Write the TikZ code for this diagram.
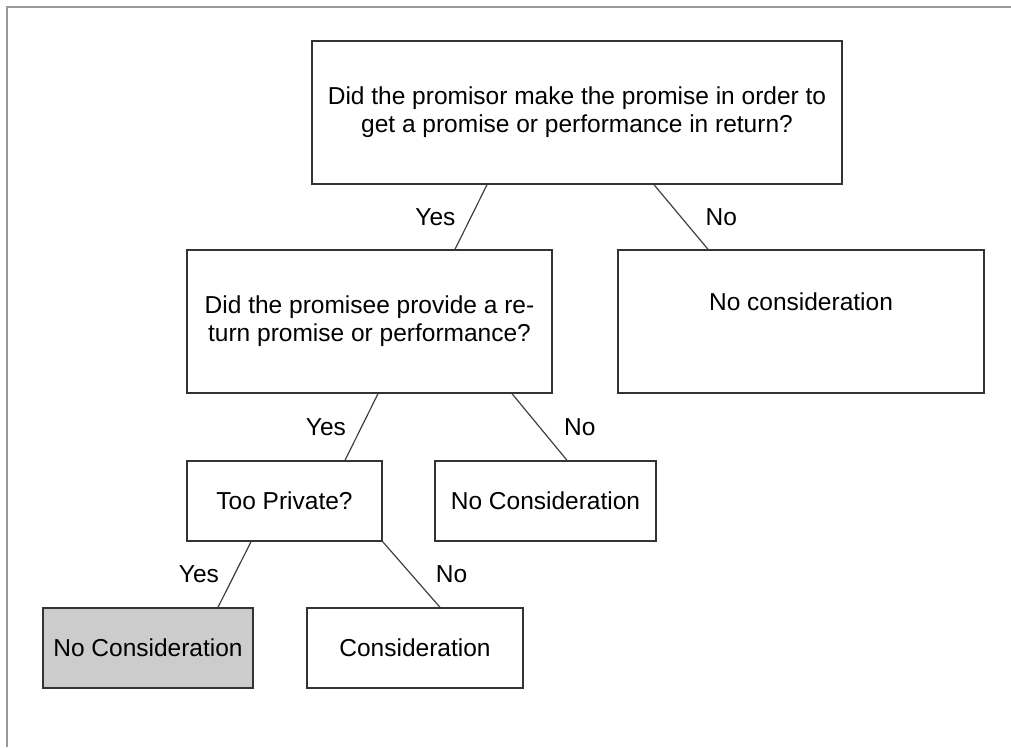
\documentclass[tikz,border=0pt]{standalone}
\usepackage{fontspec}
\setmainfont{Liberation Sans}
\tikzset{
  box/.style={draw=black!80, line width=1.4pt, inner sep=0pt, font=\fontsize{24.5}{28}\selectfont},
  ans/.style={font=\fontsize{24.5}{28}\selectfont, inner sep=0pt},
  link/.style={draw=black!75, line width=1.2pt}
}
\begin{document}
\begin{tikzpicture}[x=1pt, y=-1pt]
            \useasboundingbox (0,0) rectangle (1011,747);
            \draw[black!40, line width=2pt] (1011,7) -- (7,7) -- (7,747);

            \node[box, align=center, minimum width=530pt, minimum height=143pt] (Q1) at (577,112.5) {Did the promisor make the promise in order to\\get a promise or performance in return?};
            \node[box, align=center, minimum width=365pt, minimum height=143pt] (Q2) at (369.5,321.5) {Did the promisee provide a re-\\turn promise or performance?};
            \node[box, minimum width=366pt, minimum height=143pt, text depth=40pt] (none) at (801,321.5) {No consideration};
            \draw[link] ([xshift=-90pt]Q1.south) edge node[ans, midway, left=15pt]{Yes} ([xshift=85.5pt]Q2.north);
            \draw[link] ([xshift=77pt]Q1.south) edge node[ans, midway, right=24pt]{No} ([xshift=-93pt]none.north);

            \node[box, minimum width=195pt, minimum height=80pt] (private) at (284.5,501) {Too Private?};
            \node[box, minimum width=221pt, minimum height=80pt] (noneB) at (545.5,501) {No Consideration};
            \draw[link] ([xshift=8.5pt]Q2.south) edge node[ans, midway, left=15pt]{Yes} ([xshift=60.5pt]private.north);
            \draw[link] ([xshift=142.5pt]Q2.south) edge node[ans, midway, right=24pt]{No} ([xshift=21.5pt]noneB.north);

            \node[box, fill=black!20, minimum width=210pt, minimum height=80pt] (noneC) at (148,648) {No Consideration};
            \node[box, minimum width=216pt, minimum height=80pt] (cons) at (415,648) {Consideration};
            \draw[link] ([xshift=-33.5pt]private.south) edge node[ans, midway, left=15pt]{Yes} ([xshift=70pt]noneC.north);
            \draw[link] (private.south east) edge node[ans, midway, right=24pt]{No} ([xshift=25pt]cons.north);
\end{tikzpicture}
\end{document}
